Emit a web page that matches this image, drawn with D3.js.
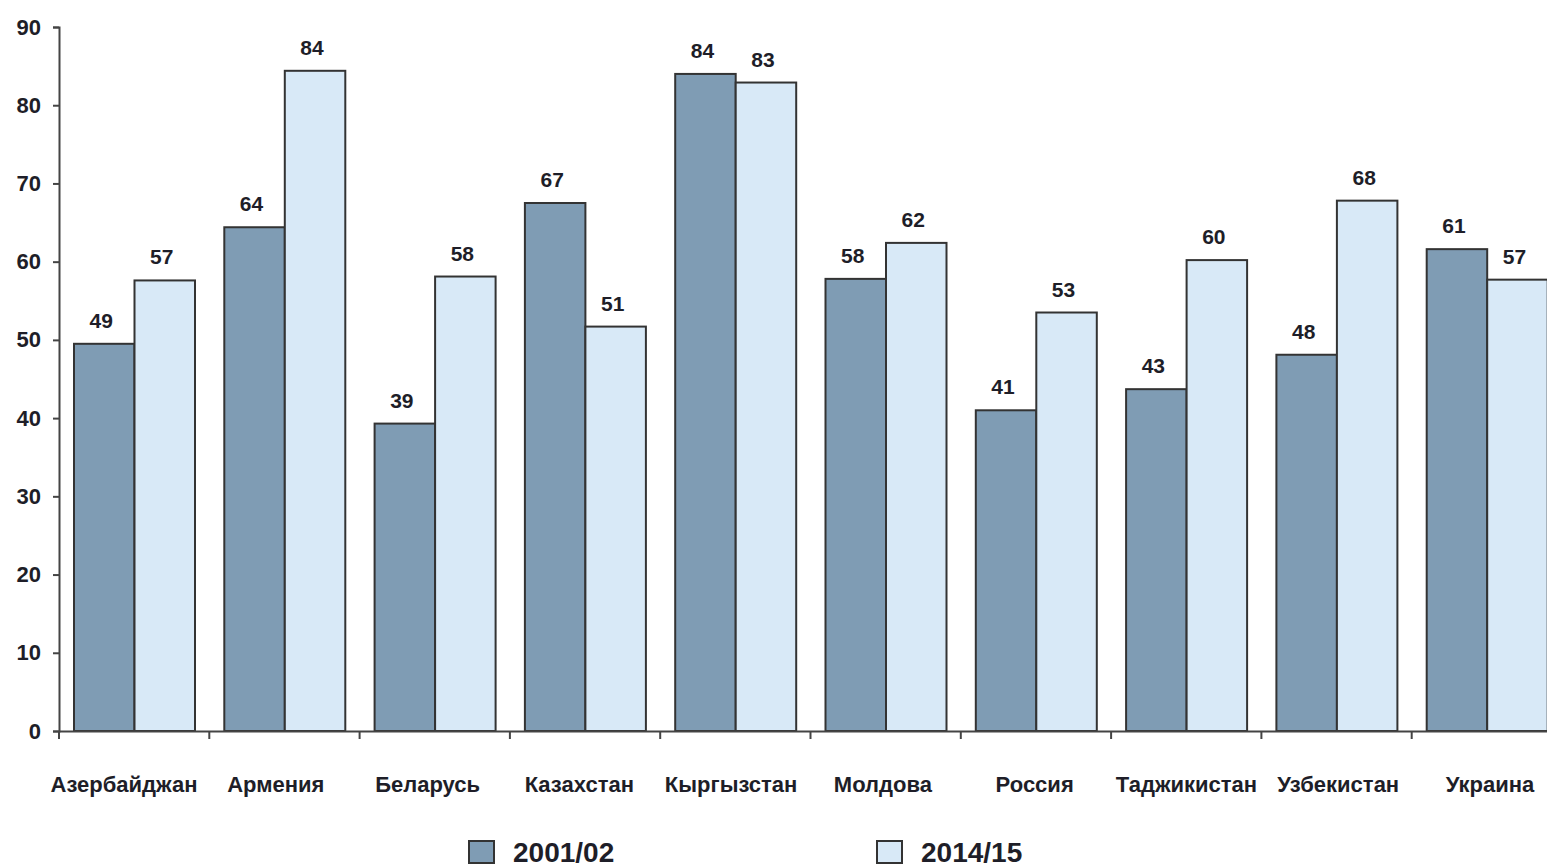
<!DOCTYPE html>
<html>
<head>
<meta charset="utf-8">
<script src="https://cdn.jsdelivr.net/npm/d3@7"></script>
<style>
  body { margin: 0; background: #fff; }
  svg text { font-family: "Liberation Sans", Arial, sans-serif; font-weight: bold; fill: #1e1e28; }
</style>
</head>
<body>
<div id="viz"></div>
<script>
const countries = ['Азербайджан', 'Армения', 'Беларусь', 'Казахстан', 'Кыргызстан',
  'Молдова', 'Россия', 'Таджикистан', 'Узбекистан', 'Украина'];
const seriesNames = ['2001/02', '2014/15'];
const values2001 = [49.5, 64.4, 39.3, 67.5, 84.0, 57.8, 41.0, 43.7, 48.1, 61.6];
const values2014 = [57.6, 84.4, 58.1, 51.7, 82.9, 62.4, 53.5, 60.2, 67.8, 57.7];
const labels2001 = ['49', '64', '39', '67', '84', '58', '41', '43', '48', '61'];
const labels2014 = ['57', '84', '58', '51', '83', '62', '53', '60', '68', '57'];
const yTicks = [0, 10, 20, 30, 40, 50, 60, 70, 80, 90];

const width = 1547;
const height = 867;
const colors = ['#7f9cb4', '#d8e9f7'];

const svg = d3.select('#viz')
  .append('svg')
  .attr('width', width)
  .attr('height', height);

const x0 = d3.scaleBand()
  .domain(countries)
  .range([59, 59 + 150.3 * 10])
  .padding(0);

const x1 = d3.scaleBand()
  .domain(seriesNames)
  .range([15, 136])
  .padding(0);

// category labels sit on a slightly wider spacing than the bar groups
const xLabel = d3.scalePoint()
  .domain(countries)
  .range([124, 1490]);

const y = d3.scaleLinear().domain([0, 90]).range([731, 27]);

const rows = countries.map((c, i) => ({
  country: c,
  bars: [
    { series: seriesNames[0], value: values2001[i], label: labels2001[i] },
    { series: seriesNames[1], value: values2014[i], label: labels2014[i] }
  ]
}));

// bars
const groups = svg.selectAll('.group')
  .data(rows)
  .enter()
  .append('g')
  .attr('class', 'group')
  .attr('transform', d => `translate(${x0(d.country)},0)`);

groups.selectAll('rect')
  .data(d => d.bars)
  .enter()
  .append('rect')
  .attr('x', d => x1(d.series))
  .attr('y', d => y(d.value))
  .attr('width', x1.bandwidth())
  .attr('height', d => y(0) - y(d.value))
  .style('fill', (d, i) => colors[i])
  .style('stroke', '#333')
  .style('stroke-width', 2);

groups.selectAll('.val')
  .data(d => d.bars)
  .enter()
  .append('text')
  .attr('class', 'val')
  .attr('x', d => x1(d.series) + x1.bandwidth() / 2 - 3)
  .attr('y', d => y(d.value) - 16)
  .attr('text-anchor', 'middle')
  .style('font-size', '21px')
  .text(d => d.label);

// y axis
const yAxis = svg.append('g')
  .attr('transform', 'translate(59,0)')
  .call(d3.axisLeft(y).tickValues(yTicks).tickSize(6).tickPadding(12));
yAxis.select('.domain').attr('stroke', '#444').attr('stroke-width', 2);
yAxis.selectAll('.tick line').attr('stroke', '#444').attr('stroke-width', 2);
yAxis.selectAll('.tick text')
  .style('font-size', '22px')
  .attr('fill', '#1e1e28');

// x axis
const xAxis = svg.append('g')
  .attr('transform', `translate(0,${y(0)})`)
  .call(d3.axisBottom(x0).tickSize(0).tickFormat(''));
xAxis.select('.domain').attr('stroke', '#444').attr('stroke-width', 2);
xAxis.selectAll('.boundary')
  .data(countries)
  .enter()
  .append('line')
  .attr('class', 'boundary')
  .attr('x1', d => x0(d))
  .attr('x2', d => x0(d))
  .attr('y1', 0)
  .attr('y2', 8)
  .attr('stroke', '#444')
  .attr('stroke-width', 2);

svg.selectAll('.cat')
  .data(countries)
  .enter()
  .append('text')
  .attr('class', 'cat')
  .attr('x', d => xLabel(d))
  .attr('y', 792)
  .attr('text-anchor', 'middle')
  .style('font-size', '22px')
  .text(d => d);

// legend
const legend = svg.selectAll('.legend')
  .data(seriesNames)
  .enter()
  .append('g')
  .attr('class', 'legend')
  .attr('transform', (d, i) => `translate(${469 + i * 408},841)`);

legend.append('rect')
  .attr('width', 25)
  .attr('height', 22)
  .style('fill', (d, i) => colors[i])
  .style('stroke', '#333')
  .style('stroke-width', 2);

legend.append('text')
  .attr('x', 44)
  .attr('y', 21)
  .style('font-size', '28px')
  .text(d => d);
</script>
</body>
</html>
